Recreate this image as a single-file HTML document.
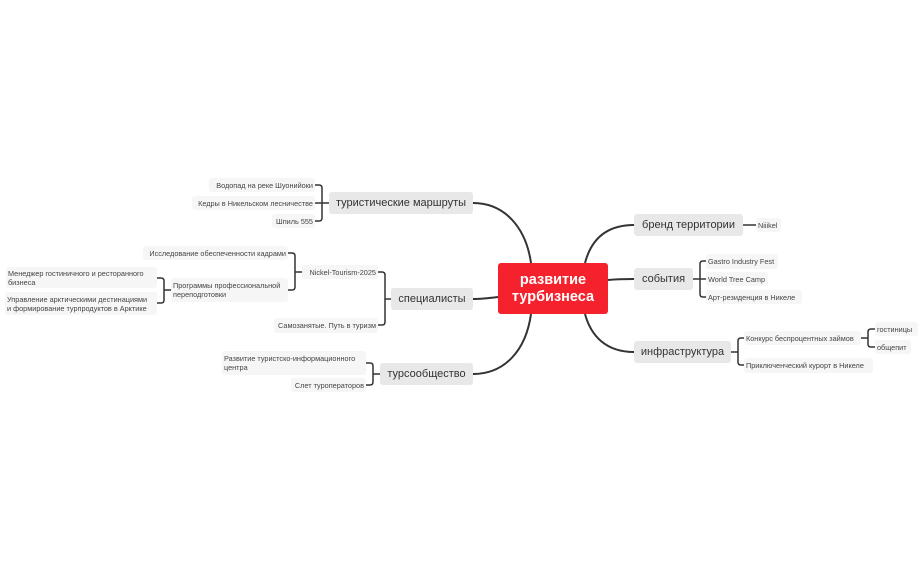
<!DOCTYPE html>
<html><head><meta charset="utf-8"><style>
body{margin:0;background:#fff;width:923px;height:571px;position:relative;overflow:hidden;font-family:"Liberation Sans","DejaVu Sans",sans-serif}
.n{position:absolute;box-sizing:border-box;display:flex;align-items:center;border-radius:3px;white-space:nowrap}
.m{background:#e8e8e8;color:#333;font-size:11px;justify-content:center}
.l{background:#f6f6f6;color:#444;font-size:7.3px;padding:0 2px;line-height:9px;justify-content:flex-end}
.r{justify-content:flex-start}
.c{background:#f5222d;color:#fff;font-weight:bold;font-size:14.5px;justify-content:center;text-align:center;line-height:17px}
svg{position:absolute;left:0;top:0}
</style></head><body>
<svg width="923" height="571" fill="none" stroke="#333">
<g stroke-width="2">
<path d="M531,263 C526,228 505,203 473,203"/>
<path d="M498,297 C490,298 482,299 473,299"/>
<path d="M531,314 C526,350 505,374 473,374"/>
<path d="M585,263 C591,240 606,225 634,225"/>
<path d="M608,280 C618,279 625,279 634,279"/>
<path d="M585,314 C591,336 606,352 634,352"/>
</g>
<g stroke-width="1.5">
<path d="M315,185 H319 Q322,185 322,188 V218 Q322,221 319,221 H315 M315,203 H329"/>
<path d="M378,272 H382 Q385,272 385,275 V322 Q385,325 382,325 H378 M385,299 H391"/>
<path d="M288,253 H292 Q295,253 295,256 V287 Q295,290 292,290 H288 M295,272 H302"/>
<path d="M157,278 H161 Q164,278 164,281 V300 Q164,303 161,303 H157 M164,290 H171"/>
<path d="M366,363 H370 Q373,363 373,366 V382 Q373,385 370,385 H366 M373,374 H380"/>
<path d="M706,261 H703 Q700,261 700,264 V294 Q700,297 703,297 H706 M693,279 H706"/>
<path d="M744,338 H741 Q738,338 738,341 V362 Q738,365 741,365 H744 M731,352 H738"/>
<path d="M875,329 H871 Q868,329 868,332 V344 Q868,347 871,347 H875 M861,338 H868"/>
<path d="M743,225 H756"/>
</g>
</svg>
<div class="n c" style="left:498px;top:263px;width:110px;height:51px">развитие<br>турбизнеса</div>
<div class="n m" style="left:329px;top:192px;width:144px;height:22px">туристические маршруты</div>
<div class="n m" style="left:391px;top:288px;width:82px;height:22px">специалисты</div>
<div class="n m" style="left:380px;top:363px;width:93px;height:22px">турсообщество</div>
<div class="n m" style="left:634px;top:214px;width:109px;height:22px">бренд территории</div>
<div class="n m" style="left:634px;top:268px;width:59px;height:22px">события</div>
<div class="n m" style="left:634px;top:341px;width:97px;height:22px">инфраструктура</div>

<div class="n l" style="left:209px;top:178px;width:106px;height:14px">Водопад на реке Шуонийоки</div>
<div class="n l" style="left:192px;top:196px;width:123px;height:14px">Кедры в Никельском лесничестве</div>
<div class="n l" style="left:272px;top:214px;width:43px;height:14px">Шпиль 555</div>
<div class="n l" style="left:143px;top:246px;width:145px;height:14px">Исследование обеспеченности кадрами</div>
<div class="n l" style="left:302px;top:265px;width:76px;height:14px">Nickel-Tourism-2025</div>
<div class="n l r" style="left:171px;top:278px;width:117px;height:24px">Программы профессиональной<br>переподготовки</div>
<div class="n l r" style="left:6px;top:267px;width:151px;height:21px">Менеджер гостиничного и ресторанного<br>бизнеса</div>
<div class="n l r" style="left:5px;top:292px;width:152px;height:23px">Управление арктическими дестинациями<br>и формирование турпродуктов в Арктике</div>
<div class="n l" style="left:274px;top:318px;width:104px;height:15px">Самозанятые. Путь в туризм</div>
<div class="n l r" style="left:222px;top:351px;width:144px;height:24px">Развитие туристско-информационного<br>центра</div>
<div class="n l" style="left:291px;top:378px;width:75px;height:14px">Слет туроператоров</div>

<div class="n l r" style="left:756px;top:218px;width:25px;height:14px">Niiikel</div>
<div class="n l r" style="left:706px;top:254px;width:72px;height:15px">Gastro Industry Fest</div>
<div class="n l r" style="left:706px;top:272px;width:62px;height:14px">World Tree Camp</div>
<div class="n l r" style="left:706px;top:290px;width:96px;height:14px">Арт-резиденция в Никеле</div>
<div class="n l r" style="left:744px;top:331px;width:117px;height:14px">Конкурс беспроцентных займов</div>
<div class="n l r" style="left:875px;top:322px;width:43px;height:14px">гостиницы</div>
<div class="n l r" style="left:875px;top:340px;width:36px;height:14px">общепит</div>
<div class="n l r" style="left:744px;top:358px;width:129px;height:15px">Приключенческий курорт в Никеле</div>
</body></html>
